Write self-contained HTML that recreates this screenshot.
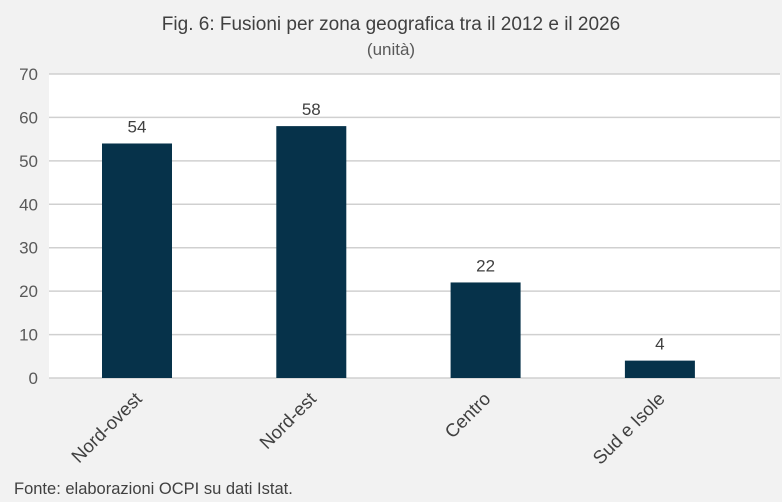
<!DOCTYPE html>
<html><head><meta charset="utf-8"><style>
body{margin:0;background:#f2f2f2;font-family:"Liberation Sans",sans-serif}
svg{display:block}
</style></head><body>
<svg width="782" height="502" id="c">
<rect width="782" height="502" fill="#f2f2f2"/>
<text x="391" y="30" text-anchor="middle" font-size="19" fill="#404040">Fig. 6: Fusioni per zona geografica tra il 2012 e il 2026</text>
<text x="391" y="55" text-anchor="middle" font-size="17" fill="#595959">(unità)</text>
<rect x="49" y="74" width="731" height="304" fill="#ffffff"/>
<g id="grid"></g><g id="bars"></g><g id="xl"></g>
<text x="14" y="494" font-size="16.5" fill="#404040">Fonte: elaborazioni OCPI su dati Istat.</text>
</svg>
<script>
const categories=["Nord-ovest","Nord-est","Centro","Sud e Isole"];
const values=[54,58,22,4];
const ticks=[0,10,20,30,40,50,60,70];
const NS="http://www.w3.org/2000/svg";
const y=v=>378-v*(304/70);
const x=i=>137+i*174.3;
function mk(t,a,p){const e=document.createElementNS(NS,t);for(const k in a)e.setAttribute(k,a[k]);p.appendChild(e);return e;}
const g=document.getElementById('grid'),b=document.getElementById('bars'),xl=document.getElementById('xl');
ticks.forEach(t=>{
 const l=mk('line',{x1:49,x2:780,y1:y(t),y2:y(t),stroke:'#d0d0d0','stroke-width':1.5},g);
 
 
 const tx=mk('text',{x:38,y:y(t)+6,'text-anchor':'end','font-size':17,fill:'#595959'},g);
 tx.textContent=t;
 
 
});
values.forEach((v,i)=>{
 const r=mk('rect',{x:x(i)-35,y:y(v),width:70,height:378-y(v),fill:'#06324a'},b);
 
 
 const t=mk('text',{x:x(i),y:y(v)-11,'text-anchor':'middle','font-size':17,fill:'#404040'},b);
 t.textContent=v;
 
 
 const ax=x(i)+6, ay=400;
 const c=mk('text',{x:ax,y:ay,'text-anchor':'end','font-size':18.5,fill:'#404040',transform:`rotate(-45 ${ax} ${ay})`},xl);
 c.textContent=categories[i];
 
 
});
</script>
</body></html>
